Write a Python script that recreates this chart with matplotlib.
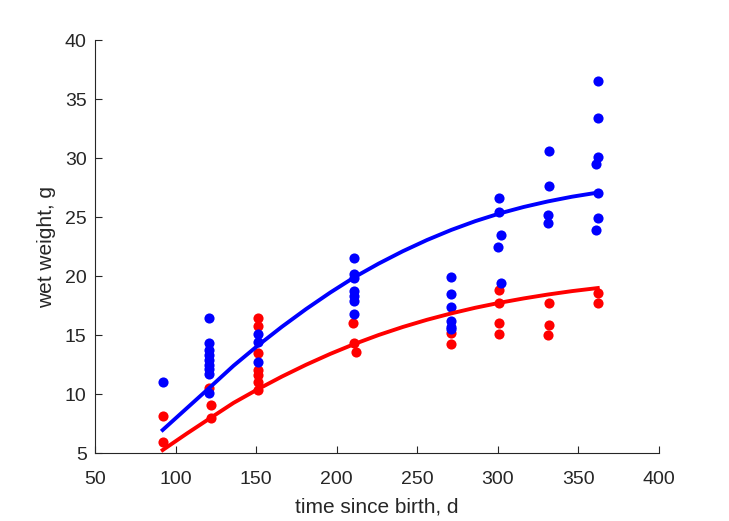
import matplotlib
matplotlib.use("Agg")
import matplotlib.pyplot as plt

plt.rcParams['font.family'] = ['Liberation Sans', 'DejaVu Sans']

# observed data: blue series
blue_t = [92, 121, 121, 121, 121, 121, 121, 121, 121, 121,
          151, 151, 151,
          211, 211, 211, 211, 211, 211, 211,
          271, 271, 271, 271, 271, 271,
          301, 301, 302, 300, 302,
          332, 332, 331, 331,
          362, 362, 362, 361, 362, 362, 361]
blue_w = [11.05, 16.4, 14.3, 13.7, 13.3, 12.9, 12.5, 12.1, 11.7, 10.1,
          15.05, 14.45, 12.7,
          21.5, 20.15, 19.8, 18.7, 18.3, 17.9, 16.8,
          19.9, 18.5, 17.4, 16.2, 15.7, 15.5,
          26.6, 25.4, 23.5, 22.5, 19.4,
          30.6, 27.6, 25.2, 24.5,
          36.5, 33.4, 30.1, 29.5, 27.0, 24.9, 23.9]

# observed data: red series
red_t = [92, 92,
         121, 122, 122,
         151, 151, 151, 151, 151, 151, 151,
         210, 211, 212,
         271, 271,
         301, 301, 301, 301,
         332, 332, 331,
         362, 362]
red_w = [8.15, 5.9,
         10.5, 9.05, 8.0,
         16.4, 15.8, 13.5, 12.0, 11.6, 11.0, 10.35,
         16.0, 14.3, 13.6,
         15.2, 14.25,
         18.8, 17.7, 16.0, 15.1,
         17.7, 15.85, 15.0,
         18.6, 17.7]

# fitted curves
blue_fit_t = [92, 107, 122, 136, 151, 166, 181, 196, 211, 226, 241, 256, 271, 286, 301, 316, 331, 346, 362]
blue_fit_w = [6.95, 8.8, 10.65, 12.4, 14.1, 15.7, 17.2, 18.6, 19.9, 21.05, 22.1, 23.05, 23.9, 24.65, 25.3, 25.85, 26.32, 26.72, 27.07]
red_fit_t = [92, 107, 122, 136, 151, 166, 181, 196, 211, 226, 241, 256, 271, 286, 301, 316, 331, 346, 362]
red_fit_w = [5.25, 6.65, 8.0, 9.25, 10.4, 11.48, 12.48, 13.4, 14.24, 15.0, 15.68, 16.29, 16.83, 17.31, 17.73, 18.1, 18.43, 18.72, 18.98]

x_ticks = [50, 100, 150, 200, 250, 300, 350, 400]
y_ticks = [5, 10, 15, 20, 25, 30, 35, 40]

fig = plt.figure(figsize=(7.29, 5.21), dpi=100)
ax = fig.add_axes([0.1303, 0.1305, 0.904 - 0.1303, 0.9232 - 0.1305])

ax.plot(red_t, red_w, 'o', color=(1, 0, 0), ms=7.3, mec='none', zorder=2)
ax.plot(blue_t, blue_w, 'o', color=(0, 0, 1), ms=7.3, mec='none', zorder=3)
ax.plot(red_fit_t, red_fit_w, '-', color=(1, 0, 0), lw=2.8, zorder=4)
ax.plot(blue_fit_t, blue_fit_w, '-', color=(0, 0, 1), lw=2.8, zorder=5)

ax.set_xlim(50, 400)
ax.set_ylim(5, 40)
ax.set_xticks(x_ticks)
ax.set_yticks(y_ticks)

axcol = (0.15, 0.15, 0.15)
for s in ['top', 'right']:
    ax.spines[s].set_visible(False)
for s in ['left', 'bottom']:
    ax.spines[s].set_color(axcol)
    ax.spines[s].set_linewidth(0.8)
ax.tick_params(direction='in', length=5, width=0.8, colors=axcol, labelsize=14)
ax.tick_params(axis='x', pad=13)
ax.tick_params(axis='y', pad=6)

ax.set_xlabel('time since birth, d', fontsize=15, color=axcol, labelpad=7)
ax.set_ylabel('wet weight, g', fontsize=15, color=axcol, labelpad=6)

fig.savefig('out.png', dpi=100)
